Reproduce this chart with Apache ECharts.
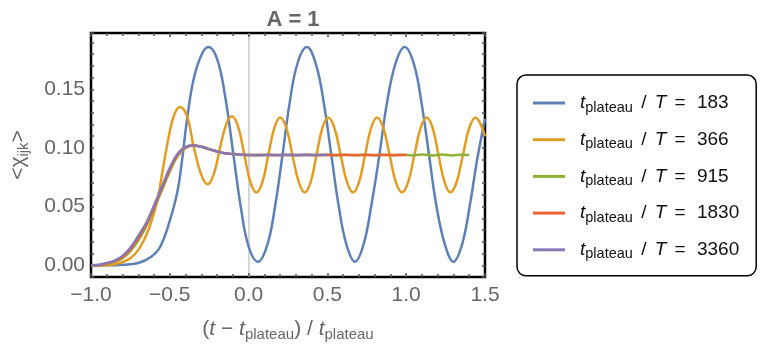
<!DOCTYPE html>
<html>
<head>
<meta charset="utf-8">
<script src="https://cdn.jsdelivr.net/npm/echarts@6/dist/echarts.min.js"></script>
<style>
  html, body { margin: 0; padding: 0; background: #fff; }
  #chart { width: 763px; height: 350px; }
</style>
</head>
<body>
<div id="chart"></div>
<script>
// t_plateau / T values (legend)
var ratios = ['183', '366', '915', '1830', '3360']
var colors = ['#5E81B5', '#E19C24', '#8FB032', '#EB6235', '#8778B3']

// curves: [ (t - tp)/tp , <chi_ijk> ]
var curve183 = [
  [-1.0, 0], [-0.9, 0], [-0.8, 0.0005], [-0.7, 0.002], [-0.62, 0.007], [-0.56, 0.016],
  [-0.5, 0.038], [-0.45, 0.064], [-0.42, 0.092], [-0.39, 0.125], [-0.35, 0.158],
  [-0.3, 0.179], [-0.255, 0.186], [-0.2, 0.176], [-0.15, 0.145], [-0.1, 0.098],
  [-0.05, 0.05], [0.0, 0.016], [0.06, 0.003], [0.12, 0.018], [0.17, 0.052],
  [0.215, 0.094], [0.26, 0.138], [0.31, 0.172], [0.37, 0.186], [0.43, 0.17],
  [0.48, 0.136], [0.525, 0.094], [0.57, 0.052], [0.62, 0.018], [0.675, 0.003],
  [0.73, 0.018], [0.78, 0.052], [0.83, 0.094], [0.875, 0.136], [0.93, 0.171],
  [0.99, 0.186], [1.05, 0.171], [1.1, 0.136], [1.145, 0.094], [1.19, 0.052],
  [1.245, 0.018], [1.3, 0.003], [1.355, 0.018], [1.405, 0.052], [1.45, 0.09], [1.5, 0.125]
]
var curve366 = [
  [-1.0, 0], [-0.9, 0], [-0.82, 0.002], [-0.75, 0.006], [-0.69, 0.015], [-0.63, 0.032],
  [-0.58, 0.055], [-0.54, 0.085], [-0.5, 0.114], [-0.47, 0.129], [-0.435, 0.135],
  [-0.39, 0.127], [-0.35, 0.102], [-0.3, 0.077], [-0.26, 0.069], [-0.22, 0.078],
  [-0.18, 0.101], [-0.14, 0.121], [-0.105, 0.127], [-0.066, 0.118], [-0.028, 0.095],
  [0.011, 0.071], [0.05, 0.062], [0.088, 0.071], [0.125, 0.094], [0.163, 0.117],
  [0.2, 0.126], [0.24, 0.117], [0.278, 0.094], [0.318, 0.071], [0.357, 0.062],
  [0.394, 0.071], [0.431, 0.094], [0.468, 0.117], [0.505, 0.126], [0.545, 0.117],
  [0.584, 0.094], [0.624, 0.071], [0.663, 0.062], [0.701, 0.071], [0.739, 0.094],
  [0.777, 0.117], [0.815, 0.126], [0.855, 0.117], [0.895, 0.094], [0.934, 0.071],
  [0.974, 0.062], [1.013, 0.071], [1.052, 0.094], [1.091, 0.117], [1.13, 0.126],
  [1.168, 0.117], [1.205, 0.094], [1.243, 0.071], [1.28, 0.062], [1.32, 0.071],
  [1.36, 0.094], [1.4, 0.117], [1.44, 0.126], [1.47, 0.121], [1.5, 0.11]
]
var curve915 = [
  [-1.0, 0], [-0.95, 0], [-0.9, 0.001], [-0.85, 0.003], [-0.8, 0.006], [-0.75, 0.012],
  [-0.7, 0.021], [-0.65, 0.033], [-0.6, 0.048], [-0.55, 0.064], [-0.5, 0.08],
  [-0.45, 0.093], [-0.4, 0.1], [-0.35, 0.102], [-0.3, 0.101], [-0.25, 0.099],
  [-0.2, 0.097], [-0.15, 0.0955], [-0.1, 0.0948], [-0.05, 0.0943], [0.0, 0.094],
  [0.06, 0.0937], [0.12, 0.0943], [0.18, 0.0937], [0.25, 0.0943], [0.31, 0.0937],
  [0.37, 0.0943], [0.43, 0.0937], [0.49, 0.0943], [0.55, 0.0937], [0.61, 0.0943],
  [0.68, 0.0937], [0.74, 0.0943], [0.8, 0.0937], [0.86, 0.0943], [0.92, 0.0937],
  [0.98, 0.0943], [1.04, 0.0936], [1.1, 0.0944], [1.17, 0.0936], [1.23, 0.0944],
  [1.29, 0.0936], [1.35, 0.0943], [1.4, 0.0939]
]
var curve1830 = [
  [-1.0, 0], [-0.95, 0], [-0.9, 0.0015], [-0.85, 0.0035], [-0.8, 0.007], [-0.75, 0.0135],
  [-0.7, 0.023], [-0.65, 0.0345], [-0.6, 0.0495], [-0.55, 0.0655], [-0.5, 0.0815],
  [-0.45, 0.094], [-0.4, 0.1005], [-0.35, 0.102], [-0.3, 0.101], [-0.25, 0.099],
  [-0.2, 0.097], [-0.15, 0.0955], [-0.1, 0.0948], [-0.05, 0.0943], [0.0, 0.094],
  [0.2, 0.094], [0.4, 0.094], [0.6, 0.094], [0.8, 0.094], [1.0, 0.094]
]
var curve3360 = [
  [-1.0, 0], [-0.95, 0.0005], [-0.9, 0.002], [-0.85, 0.004], [-0.8, 0.008], [-0.75, 0.015],
  [-0.7, 0.025], [-0.65, 0.036], [-0.6, 0.051], [-0.55, 0.067], [-0.5, 0.083],
  [-0.45, 0.095], [-0.4, 0.101], [-0.35, 0.102], [-0.3, 0.101], [-0.25, 0.099],
  [-0.2, 0.097], [-0.15, 0.0955], [-0.1, 0.0948], [-0.05, 0.0943], [0.0, 0.094],
  [0.1, 0.094], [0.2, 0.094], [0.3, 0.094], [0.4, 0.094], [0.5, 0.094]
]
var curves = [curve183, curve366, curve915, curve1830, curve3360]

var yTicks = [0.0, 0.05, 0.10, 0.15]

var FONT = 'Liberation Sans, Arial, sans-serif'
var GRAY = '#666'

var chart = echarts.init(document.getElementById('chart'))

function fmtX(v) {
  return v.toFixed(1).replace('-', '\u2212')
}
function fmtY(v) {
  for (var i = 0; i < yTicks.length; i++) {
    if (Math.abs(v - yTicks[i]) < 1e-6) return yTicks[i].toFixed(2)
  }
  return ''
}

var tickStyle = { color: '#555', width: 1.5 }

function xAxisOpt(pos, main) {
  return {
    type: 'value', position: pos, min: -1, max: 1.5, interval: 0.5,
    axisLine: { show: false, onZero: false },
    axisTick: { show: true, inside: true, length: 4, lineStyle: tickStyle },
    minorTick: { show: true, splitNumber: 5, length: 3, lineStyle: tickStyle },
    axisLabel: main ? { color: GRAY, fontSize: 21, fontFamily: FONT, margin: 8, formatter: fmtX } : { show: false },
    splitLine: main ? {
      show: true, showMinLine: false, showMaxLine: false,
      lineStyle: { color: ['rgba(0,0,0,0)', '#c8c8c8', 'rgba(0,0,0,0)', 'rgba(0,0,0,0)'], width: 1.5 }
    } : { show: false }
  }
}
function yAxisOpt(pos, main) {
  return {
    type: 'value', position: pos, min: -0.01, max: 0.198, interval: 0.01,
    axisLine: { show: false, onZero: false },
    axisTick: { show: true, inside: true, length: 3, lineStyle: tickStyle },
    axisLabel: main ? { color: GRAY, fontSize: 21, fontFamily: FONT, margin: 6, formatter: fmtY } : { show: false },
    splitLine: { show: false }
  }
}

var xMain = xAxisOpt('bottom', true)
xMain.name = '{n|(}{i|t}{n| \u2212 }{i|t}{s|plateau}{n|) / }{i|t}{s|plateau}'
xMain.nameLocation = 'middle'
xMain.nameGap = 40
xMain.nameTextStyle = {
  color: GRAY,
  rich: {
    n: { fontSize: 21, fontFamily: FONT, color: GRAY },
    i: { fontSize: 21, fontFamily: FONT, color: GRAY, fontStyle: 'italic' },
    s: { fontSize: 15, fontFamily: FONT, color: GRAY, padding: [10, 0, 0, 0] }
  }
}
var yMain = yAxisOpt('left', true)
yMain.name = '{n|<\u03c7}{s|ijk}{n|>}'
yMain.nameLocation = 'middle'
yMain.nameGap = 60
yMain.nameTextStyle = {
  color: GRAY,
  rich: {
    n: { fontSize: 21, fontFamily: FONT, color: GRAY },
    s: { fontSize: 15, fontFamily: FONT, color: GRAY, padding: [10, 0, 0, 0] }
  }
}

var legendRich = {
  f: { fontSize: 19, fontFamily: FONT, color: '#111', fontStyle: 'italic', padding: [0, 0, 0, 10], lineHeight: 22 },
  i: { fontSize: 19, fontFamily: FONT, color: '#111', fontStyle: 'italic', lineHeight: 22 },
  n: { fontSize: 19, fontFamily: FONT, color: '#111', lineHeight: 22, padding: [0, 3, 0, 3] },
  s: { fontSize: 14.5, fontFamily: FONT, color: '#111', padding: [9, 0, 0, 0], lineHeight: 22 }
}

var option = {
  animation: false,
  backgroundColor: '#fff',
  color: colors,
  title: {
    text: 'A = 1', left: 288, top: 4, textAlign: 'center',
    textStyle: { fontSize: 22, fontWeight: 'bold', color: GRAY, fontFamily: FONT }
  },
  grid: {
    left: 91, right: 278, top: 33, bottom: 73,
    show: true, borderColor: '#000', borderWidth: 2.5, backgroundColor: 'transparent'
  },
  legend: {
    orient: 'vertical', left: 517, top: 75,
    data: ratios,
    icon: 'rect', itemWidth: 32, itemHeight: 3, itemGap: 12.7,
    padding: [16, 14, 14, 16],
    borderColor: '#000', borderWidth: 1.5, borderRadius: 9,
    formatter: function (name) {
      return '{f|t}{s|plateau}{n| / }{i|T}{n| = }{n|' + name + '}'
    },
    textStyle: { rich: legendRich }
  },
  xAxis: [xMain, xAxisOpt('top', false)],
  yAxis: [yMain, yAxisOpt('right', false)],
  series: curves.map(function (c, k) {
    return {
      name: ratios[k], type: 'line', data: c,
      showSymbol: false, smooth: 0.4,
      lineStyle: { width: 2.5, color: colors[k] },
      itemStyle: { color: colors[k] },
      z: 3 + k
    }
  })
}
chart.setOption(option)
</script>
</body>
</html>
